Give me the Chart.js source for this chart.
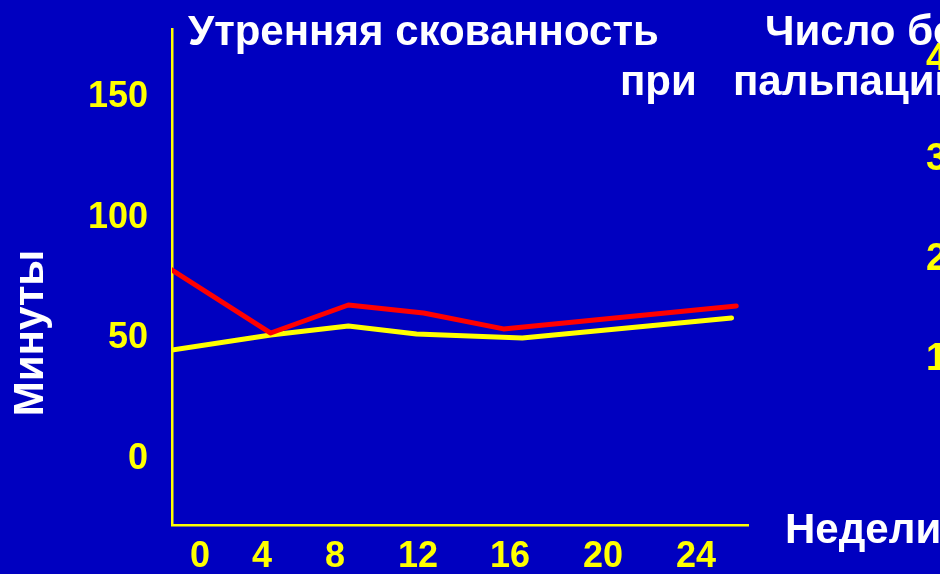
<!DOCTYPE html>
<html>
<head>
<meta charset="utf-8">
<script src="https://cdn.jsdelivr.net/npm/chart.js@4"></script>
<style>
  html, body { margin: 0; padding: 0; background: #0000c0; }
  #wrap { width: 940px; height: 574px; }
</style>
</head>
<body>
<div id="wrap"><canvas id="chartCanvas" width="940" height="574"></canvas></div>
<script>
// weeks (x axis runs 0 .. 24.5)
var redWeeks = [0, 4.2, 7.5, 10.7, 14.1, 24];
var redMinutes = [78.3, 52.2, 63.8, 60.5, 53.9, 63.4];
var yellowWeeks = [0, 4.2, 7.5, 10.4, 14.9, 23.8];
var yellowMinutes = [45.2, 51.4, 55.1, 51.8, 50.1, 58.4];

// tick labels and where they sit on the week axis
var weekLabels = ['0', '4', '8', '12', '16', '20', '24'];
var weekLabelAt = [1.19, 3.83, 6.93, 10.46, 14.38, 18.33, 22.29];
var minuteTicks = [0, 50, 100, 150];
var rightTicks = [1, 2, 3, 4];

var bg = '#0000c0';
var yellow = '#ffff00';

function toPoints(xs, ys) {
    return xs.map(function (x, i) { return { x: x, y: ys[i] }; });
}

// fixed box sizes so the plot area lands where the slide has it
function fixBox(w, h) {
    return function (s) {
        if (w) s.width = w;
        if (h) s.height = h;
        s.paddingTop = 0;
        s.paddingBottom = 0;
        s.paddingLeft = 0;
        s.paddingRight = 0;
    };
}

var slideText = {
    id: 'slideText',
    beforeDraw: function (chart) {
        var ctx = chart.ctx;
        ctx.save();
        ctx.fillStyle = bg;
        ctx.fillRect(0, 0, chart.width, chart.height);
        ctx.restore();
    },
    afterDraw: function (chart) {
        var ctx = chart.ctx;
        ctx.save();
        ctx.fillStyle = '#ffffff';
        ctx.font = 'bold 42px "Liberation Sans", Arial, sans-serif';
        ctx.textAlign = 'left';
        ctx.textBaseline = 'alphabetic';
        ctx.fillText('Утренняя скованность', 188, 45);
        ctx.fillText('Число бо', 765, 45);
        ctx.fillText('при', 620, 95);
        ctx.fillText('пальпации', 733, 95);
        ctx.fillText('Недели', 785, 543);
        // vertical axis title
        ctx.translate(43, 333);
        ctx.rotate(-Math.PI / 2);
        ctx.textAlign = 'center';
        ctx.fillText('Минуты', 0, 0);
        ctx.restore();
    }
};

var tickFont = { family: '"Liberation Sans", Arial, sans-serif', size: 36, weight: 'bold' };

new Chart('chartCanvas', {
    type: 'line',
    data: {
        datasets: [
            {
                label: 'red',
                data: toPoints(redWeeks, redMinutes),
                borderColor: '#ff0000',
                borderWidth: 5,
                pointRadius: 0,
                borderCapStyle: 'round',
                borderJoinStyle: 'round',
                tension: 0
            },
            {
                label: 'yellow',
                data: toPoints(yellowWeeks, yellowMinutes),
                borderColor: yellow,
                borderWidth: 5,
                pointRadius: 0,
                borderCapStyle: 'round',
                borderJoinStyle: 'round',
                tension: 0
            }
        ]
    },
    options: {
        responsive: false,
        animation: false,
        layout: { padding: { top: 29, left: 0, right: 0, bottom: 0 } },
        plugins: {
            legend: { display: false },
            tooltip: { enabled: false }
        },
        scales: {
            x: {
                type: 'linear',
                min: 0,
                max: 24.5,
                afterFit: fixBox(0, 49),
                afterBuildTicks: function (s) {
                    s.ticks = weekLabelAt.map(function (v) { return { value: v }; });
                },
                grid: { display: false, drawTicks: false },
                border: { display: true, color: yellow, width: 2.5 },
                ticks: {
                    color: yellow,
                    font: tickFont,
                    padding: 10,
                    maxRotation: 0,
                    autoSkip: false,
                    callback: function (v, i) { return weekLabels[i]; }
                }
            },
            y: {
                position: 'left',
                min: -27.3,
                max: 178.1,
                afterFit: fixBox(172, 0),
                afterBuildTicks: function (s) {
                    s.ticks = minuteTicks.map(function (v) { return { value: v }; });
                },
                grid: { display: false, drawTicks: false },
                border: { display: true, color: yellow, width: 2.5 },
                ticks: { color: yellow, font: tickFont, padding: 24 }
            },
            y2: {
                position: 'right',
                min: -0.65,
                max: 4.31,
                afterFit: fixBox(192, 0),
                afterBuildTicks: function (s) {
                    s.ticks = rightTicks.map(function (v) { return { value: v }; });
                },
                grid: { display: false, drawTicks: false },
                border: { display: false },
                ticks: { color: yellow, font: { family: tickFont.family, size: 38, weight: 'bold' }, padding: 178 }
            }
        }
    },
    plugins: [slideText]
});
</script>
</body>
</html>
